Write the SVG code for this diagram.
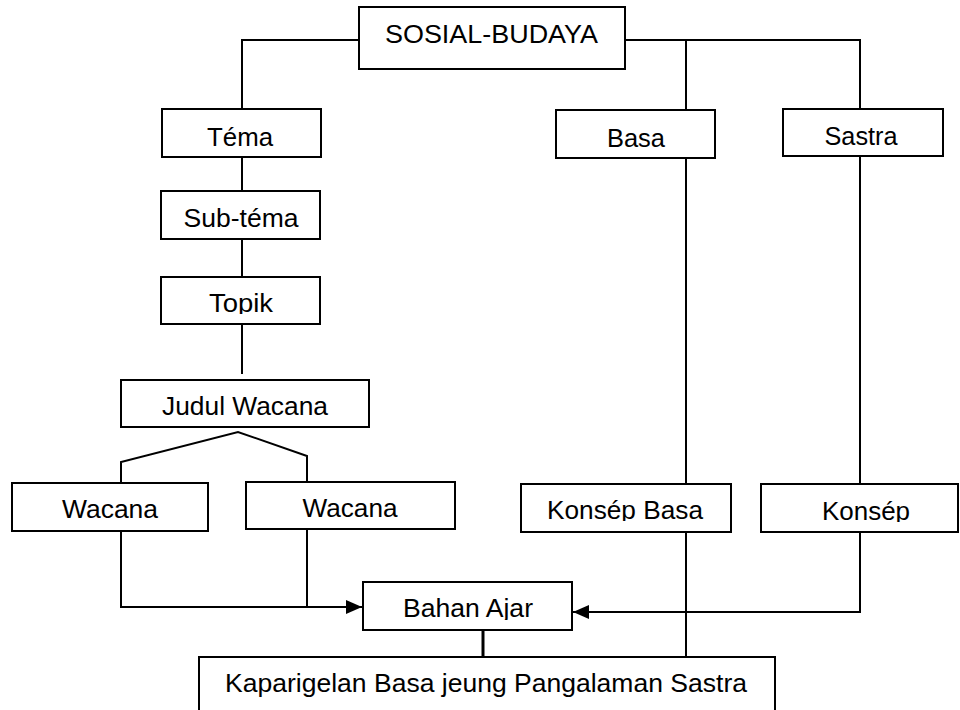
<svg xmlns="http://www.w3.org/2000/svg" width="960" height="710" viewBox="0 0 960 710">
<style>
.box{fill:#fff;stroke:#000;stroke-width:2}
.ln{fill:none;stroke:#000;stroke-width:2}
text{font-family:"Liberation Sans",Arial,sans-serif;font-size:25px;fill:#000;text-anchor:middle}
</style>
<defs>
<marker id="arr" markerWidth="16" markerHeight="14" refX="16" refY="7" orient="auto" markerUnits="userSpaceOnUse">
<path d="M0,0 L16,7 L0,14 Z" fill="#000"/>
</marker>
<clipPath id="cTopik"><rect x="160" y="270" width="170" height="44"/></clipPath>
<clipPath id="cKB"><rect x="520" y="480" width="215" height="41"/></clipPath>
<clipPath id="cK"><rect x="760" y="480" width="200" height="42"/></clipPath>
<clipPath id="cBA"><rect x="360" y="578" width="215" height="42"/></clipPath>
</defs>
<rect width="960" height="710" fill="#fff"/>
<g id="connectors">
<polyline class="ln" points="359,40 242,40 242,109"/>
<polyline class="ln" points="625,40 860,40 860,109"/>
<line class="ln" x1="686" y1="40" x2="686" y2="110"/>
<line class="ln" x1="242" y1="157" x2="242" y2="191"/>
<line class="ln" x1="242" y1="239" x2="242" y2="277"/>
<line class="ln" x1="242" y1="324" x2="242" y2="374"/>
<polyline class="ln" points="121,483 121,462 238,432 307,456 307,482"/>
<line class="ln" x1="686" y1="158" x2="686" y2="484"/>
<line class="ln" x1="860" y1="156" x2="860" y2="484"/>
<line class="ln" x1="686" y1="532" x2="686" y2="657"/>
<polyline class="ln" points="121,531 121,607 362,607" marker-end="url(#arr)"/>
<line class="ln" x1="307" y1="529" x2="307" y2="607"/>
<polyline class="ln" points="860,532 860,612 573,612" marker-end="url(#arr)"/>
<line class="ln" x1="483" y1="630" x2="483" y2="657" style="stroke-width:3"/>
</g>
<g id="sosial-budaya"><rect class="box" x="359" y="7" width="266" height="62"/><text x="491.5" y="43" textLength="213" lengthAdjust="spacingAndGlyphs">SOSIAL-BUDAYA</text></g>
<g id="tema"><rect class="box" x="162" y="109" width="159" height="48"/><text x="240" y="146" textLength="66" lengthAdjust="spacingAndGlyphs">Téma</text></g>
<g id="basa"><rect class="box" x="556" y="110" width="159" height="48"/><text x="636" y="147" textLength="58" lengthAdjust="spacingAndGlyphs">Basa</text></g>
<g id="sastra"><rect class="box" x="783" y="109" width="160" height="47"/><text x="861" y="145" textLength="73" lengthAdjust="spacingAndGlyphs">Sastra</text></g>
<g id="sub-tema"><rect class="box" x="161" y="191" width="159" height="48"/><text x="241" y="227" textLength="115" lengthAdjust="spacingAndGlyphs">Sub-téma</text></g>
<g id="topik"><rect class="box" x="161" y="277" width="159" height="47"/><text x="241" y="312" textLength="64" lengthAdjust="spacingAndGlyphs" clip-path="url(#cTopik)">Topik</text></g>
<g id="judul-wacana"><rect class="box" x="121" y="380" width="248" height="47"/><text x="245" y="415" textLength="166" lengthAdjust="spacingAndGlyphs">Judul Wacana</text></g>
<g id="wacana-1"><rect class="box" x="12" y="483" width="196" height="48"/><text x="110" y="518" textLength="96" lengthAdjust="spacingAndGlyphs">Wacana</text></g>
<g id="wacana-2"><rect class="box" x="246" y="482" width="209" height="47"/><text x="350" y="517" textLength="95" lengthAdjust="spacingAndGlyphs">Wacana</text></g>
<g id="konsep-basa"><rect class="box" x="521" y="484" width="210" height="48"/><text x="625" y="519" textLength="156" lengthAdjust="spacingAndGlyphs" clip-path="url(#cKB)">Konsép Basa</text></g>
<g id="konsep"><rect class="box" x="761" y="484" width="197" height="48"/><text x="866" y="520" textLength="88" lengthAdjust="spacingAndGlyphs" clip-path="url(#cK)">Konsép</text></g>
<g id="bahan-ajar"><rect class="box" x="363" y="582" width="209" height="48"/><text x="468" y="617" textLength="130" lengthAdjust="spacingAndGlyphs" clip-path="url(#cBA)">Bahan Ajar</text></g>
<g id="kaparigelan"><rect class="box" x="199" y="657" width="576" height="70"/><text x="486" y="692" textLength="522" lengthAdjust="spacingAndGlyphs">Kaparigelan Basa jeung Pangalaman Sastra</text></g>
</svg>
